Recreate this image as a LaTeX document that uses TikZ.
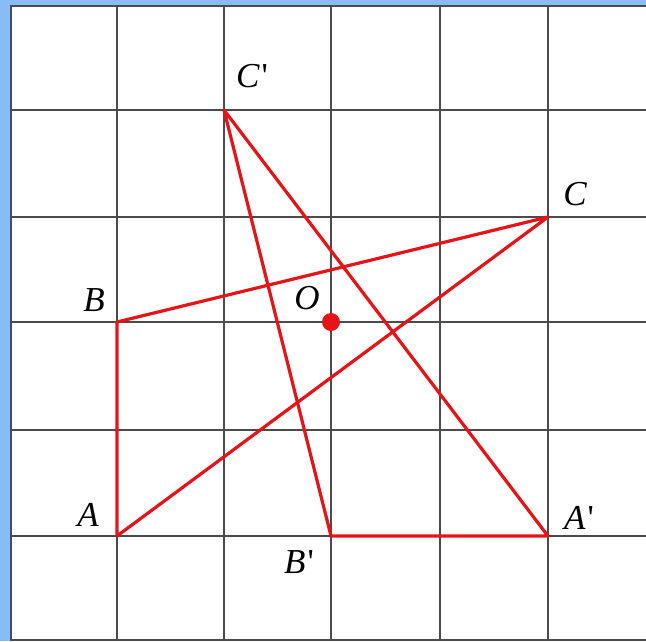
\documentclass[tikz,border=0pt]{standalone}
\usepackage{fontspec}
\newfontfamily\labfont{Liberation Serif}
\definecolor{bluebg}{RGB}{136,188,246}
\definecolor{gridc}{RGB}{75,75,75}
\definecolor{redc}{RGB}{228,20,24}
\newcommand{\prm}{\kern2pt{\upshape '}}
\begin{document}
\begin{tikzpicture}[x=1pt,y=-1pt,
  gridline/.style={draw=gridc,line width=2pt},
  redline/.style={draw=redc,line width=3.2pt,line join=round,line cap=round},
  lab/.style={font=\labfont\itshape\fontsize{35}{40}\selectfont,inner sep=0pt,anchor=center}]
\useasboundingbox (0,0) rectangle (646,641);
\fill[bluebg] (0,0) rectangle (646,641);
\fill[white] (10,5) rectangle (646,641);
% grid
\foreach \x in {11,117,224,331,440,548} \draw[gridline] (\x,5) -- (\x,641);
\foreach \y in {6,110,217,322,430,536,640} \draw[gridline] (10,\y) -- (646,\y);
% points
\coordinate (A) at (117,536);
\coordinate (B) at (117,322);
\coordinate (C) at (548,217);
\coordinate (O) at (331,322);
\coordinate (A1) at (548,536);
\coordinate (B1) at (331,536);
\coordinate (C1) at (224,110);
% triangles
\draw[redline] (A) -- (B) -- (C) -- cycle;
\draw[redline] (A1) -- (B1) -- (C1) -- cycle;
\fill[redc] (O) circle (9);
% labels
\node[lab] (lA) at (88,515) {A};
\node[lab] (lB) at (94,300) {B};
\node[lab] (lC) at (575,194) {C};
\node[lab] (lO) at (307,298) {O};
\node[lab] (lA1) at (579,518) {A\prm};
\node[lab] (lB1) at (299,562) {B\prm};
\node[lab] (lC1) at (252,76) {C\prm};
\end{tikzpicture}
\end{document}
